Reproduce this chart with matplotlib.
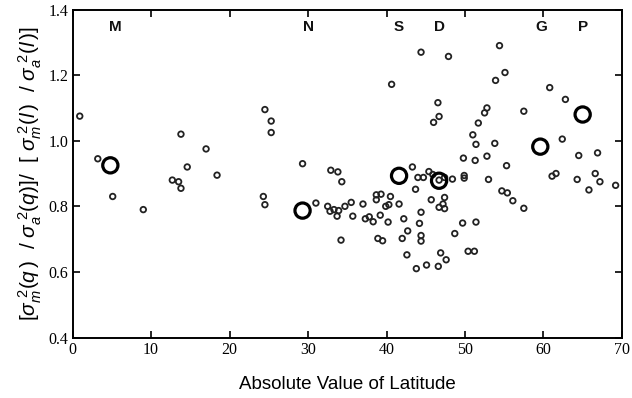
import matplotlib
matplotlib.use("Agg")
import matplotlib.pyplot as plt

# small circles: latitude and ratio
lat_small = [0.9, 3.2, 5.1, 9.0, 13.8, 17.0, 14.6, 18.4, 12.7, 13.5, 13.8,
             24.5, 25.3, 25.3, 24.3, 24.5,
             29.3, 32.9, 33.8, 34.3, 31.0, 32.5, 32.8, 33.3, 33.7, 33.9, 34.7,
             35.5, 35.7, 37.0, 37.3, 37.8, 38.3, 38.7, 39.3, 38.7, 39.2, 39.9,
             40.3, 40.5, 40.2, 41.6, 42.2, 42.7, 42.0, 42.6, 43.8, 34.2, 38.9,
             39.5, 43.3, 43.7, 44.0, 44.7, 45.4, 45.9, 46.7, 47.4, 48.4,
             49.9, 49.9, 53.0, 55.3, 45.7, 46.7, 47.4, 47.2, 47.4,
             54.7, 55.4, 56.1, 57.5, 44.4, 44.2, 44.4, 44.4, 49.7, 51.4, 48.7,
             46.9, 47.6, 45.1, 46.6, 50.4, 51.2,
             44.4, 47.9, 54.4, 55.1, 53.9, 46.55, 46.7, 46.0, 52.8, 52.5, 51.7,
             51.0, 51.4, 53.8, 57.5, 49.8, 51.3, 52.8, 40.65,
             60.8, 62.8, 62.4, 64.5, 66.9, 61.1, 61.6, 64.3, 66.6, 67.2, 65.8,
             69.2]
ratio_small = [1.075, 0.945, 0.83, 0.79, 1.02, 0.975, 0.92, 0.895, 0.88, 0.875, 0.855,
               1.095, 1.06, 1.025, 0.83, 0.805,
               0.93, 0.91, 0.905, 0.875, 0.81, 0.80, 0.785, 0.79, 0.77, 0.787, 0.80,
               0.812, 0.77, 0.807, 0.762, 0.768, 0.753, 0.835, 0.837, 0.82, 0.773, 0.80,
               0.805, 0.83, 0.752, 0.807, 0.762, 0.725, 0.702, 0.652, 0.61, 0.697, 0.702,
               0.695, 0.92, 0.852, 0.888, 0.888, 0.906, 0.897, 0.88, 0.888, 0.883,
               0.894, 0.886, 0.882, 0.924, 0.82, 0.797, 0.827, 0.807, 0.793,
               0.847, 0.841, 0.817, 0.794, 0.782, 0.748, 0.711, 0.694, 0.749, 0.752, 0.717,
               0.658, 0.637, 0.621, 0.617, 0.663, 0.663,
               1.27, 1.257, 1.29, 1.208, 1.184, 1.116, 1.074, 1.056, 1.10, 1.085, 1.054,
               1.018, 0.989, 0.992, 1.09, 0.947, 0.94, 0.953, 1.172,
               1.162, 1.126, 1.005, 0.955, 0.963, 0.892, 0.90, 0.882, 0.90, 0.875, 0.85,
               0.864]

# large circles
lat_big = [4.8, 29.3, 41.6, 46.7, 59.6, 65.0]
ratio_big = [0.925, 0.787, 0.893, 0.878, 0.982, 1.08]

# station letters
station_labels = ["M", "N", "S", "D", "G", "P"]
station_lat = [5.4, 30.0, 41.5, 46.8, 59.7, 65.1]

plt.rcParams['mathtext.fontset'] = 'custom'
plt.rcParams['mathtext.rm'] = 'Liberation Sans'
plt.rcParams['mathtext.it'] = 'Liberation Sans:italic'
plt.rcParams['mathtext.sf'] = 'Liberation Sans'

fig = plt.figure(figsize=(6.32, 3.98), dpi=100)
ax = fig.add_axes([0.115, 0.152, 0.869, 0.824])

ax.scatter(lat_small, ratio_small, s=16, facecolors='none', edgecolors='#222222',
           linewidths=1.3, zorder=3)
ax.scatter(lat_big, ratio_big, s=120, facecolors='none', edgecolors='black',
           linewidths=2.3, zorder=4)

for lab, x in zip(station_labels, station_lat):
    ax.text(x, 1.348, lab, ha='center', va='center', fontsize=11,
            fontweight='bold', family='Liberation Sans', color='#111111')

ax.set_xlim(0, 70)
ax.set_ylim(0.4, 1.4)
ax.set_xticks(range(0, 71, 10))
ax.set_yticks([0.4, 0.6, 0.8, 1.0, 1.2, 1.4])
ax.set_yticklabels(["0.4", "0.6", "0.8", "1.0", "1.2", "1.4"])

ax.tick_params(direction='in', length=5, width=1.2, top=True, right=True,
               labelsize=11.5, pad=3)
for lbl in ax.get_xticklabels() + ax.get_yticklabels():
    lbl.set_family('Liberation Serif')

for sp in ax.spines.values():
    sp.set_linewidth(1.4)

ax.set_xlabel("Absolute Value of Latitude", fontsize=13.5,
              family='Liberation Sans', labelpad=13)
ax.set_ylabel(r'$[\sigma_m^{\ 2}(q\,)\ \ /\ \sigma_a^{\ 2}(q)]/\ \ [\ \sigma_m^{\ 2}(l\,)\ \ /\ \sigma_a^{\ 2}(l\,)]$',
              fontsize=15, labelpad=3)

fig.savefig("out.png", dpi=100)
